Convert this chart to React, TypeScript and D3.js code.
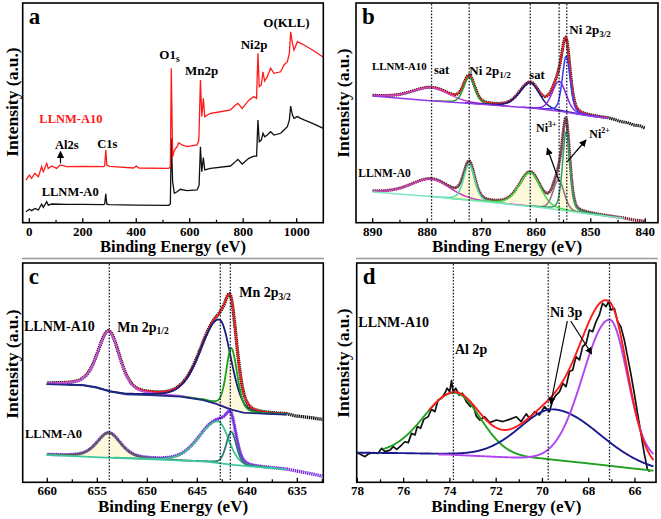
import React from "react";
import * as d3 from "d3";

// ================= DATA =================
// Panel a: XPS survey spectra [binding energy (eV), intensity (a.u.)]
const surveyA10: [number, number][] = [
  [-12.5, 19.4], [0, 21.7], [8.75, 20.2], [21, 22.5], [34, 20.9], [46, 25.5], [52.5, 23.2], [65, 27.0], [71, 24.7],
  [84, 25.8], [102, 24.7], [115, 26.3], [140, 25.5], [200, 25.6], [277.5, 25.5], [282, 26.0], [286, 33.1], [290, 26.2],
  [300, 25.6], [390, 24.9], [400, 25.8], [410, 24.9], [521, 24.7], [527.5, 25.5], [531, 70.3], [536, 30.0],
  [542.5, 33.1], [552.5, 34.6], [559, 36.4], [571, 35.4], [590, 34.6], [627.5, 35.4], [634, 37.6], [640, 64.9],
  [645, 48.3], [651, 56.6], [656, 48.3], [677.5, 49.8], [715, 50.5], [752.5, 51.3], [771, 53.6], [780, 54.3],
  [796, 52.0], [821, 55.8], [840, 57.4], [850, 56.6], [855, 77.1], [860, 61.9], [867.5, 62.7], [874, 68.7],
  [880, 64.5], [890, 66.5], [902.5, 70.3], [915, 68.0], [940, 68.7], [952.5, 71.8], [965, 73.3], [972.5, 77.1],
  [977.5, 86.9], [984, 81.6], [990, 78.6], [1002.5, 82.4], [1015, 81.6], [1027.5, 80.9], [1059, 78.6], [1100, 75.3],
];
const surveyA0: [number, number][] = [
  [-12.5, 5.0], [0, 6.1], [8.75, 5.5], [21, 6.5], [34, 5.8], [46, 8.5], [52.5, 7.0], [65, 9.6], [71, 8.0],
  [84, 8.5], [140, 8.3], [200, 8.3], [277.5, 8.2], [282, 8.6], [286, 13.1], [290, 8.4], [300, 8.2], [400, 8.0],
  [521, 7.9], [527.5, 8.5], [531, 38.4], [536, 18.7], [542.5, 13.4], [552.5, 14.1], [565, 15.2], [590, 14.6],
  [627.5, 14.9], [635, 17.1], [640, 34.6], [645, 23.2], [651, 29.7], [656, 24.0], [677.5, 24.7], [752.5, 25.8],
  [771, 27.8], [780, 28.8], [796, 26.7], [821, 29.3], [840, 30.3], [850, 30.3], [855, 46.7], [860, 36.9],
  [867.5, 37.6], [874, 40.7], [880, 39.1], [890, 39.9], [902.5, 41.4], [915, 39.9], [940, 40.7], [952.5, 42.2],
  [965, 43.7], [972.5, 46.7], [977.5, 53.1], [984, 49.0], [990, 47.5], [1002.5, 48.3], [1015, 47.5],
  [1027.5, 46.8], [1059, 45.2], [1100, 42.9],
];
const surveyTicks = [0, 200, 400, 600, 800, 1000];

// Fitted peak parameters: centre (eV), height, half-widths (high-BE side / low-BE side), Lorentzian fraction
type Peak = { c: number; h: number; wl: number; wr: number; eta: number };

// Panel b: Ni 2p
const niRange: [number, number] = [890, 846.8];
const niA10BgE = [890, 880, 870, 860, 855, 850, 846.8];
const niA10BgV = [57.7, 55.6, 53.9, 52.0, 50.5, 48.5, 47.5];
const niA10Peaks: Peak[] = [
  { c: 879.2, h: 6.0, wl: 4.2, wr: 3.8, eta: 0.3 },
  { c: 872.3, h: 11.9, wl: 1.2, wr: 1.2, eta: 0.3 },
  { c: 861.1, h: 11.4, wl: 2.3, wr: 2.0, eta: 0.3 },
  { c: 855.8, h: 13.5, wl: 1.5, wr: 1.5, eta: 0.2 },
  { c: 854.5, h: 25.5, wl: 0.85, wr: 0.85, eta: 0.3 },
];
const niA10Tail: [number, number][] = [[846.8, 47.5], [845.5, 46.9], [844.5, 46.0], [843.3, 45.6], [842.2, 44.5], [841, 44.1], [840, 43.0]];
const niA0Range: [number, number] = [890, 844];
const niA0BgE = [890, 880, 870, 860, 855, 850, 844];
const niA0BgV = [14.0, 12.0, 9.6, 7.2, 5.6, 3.9, 2.0];
const niA0Peaks: Peak[] = [
  { c: 879.2, h: 8.0, wl: 4.5, wr: 4.0, eta: 0.3 },
  { c: 872.3, h: 16.4, wl: 1.2, wr: 1.2, eta: 0.3 },
  { c: 861.1, h: 15.3, wl: 2.4, wr: 2.2, eta: 0.3 },
  { c: 855.9, h: 13.5, wl: 1.2, wr: 1.2, eta: 0.2 },
  { c: 854.5, h: 36.0, wl: 0.8, wr: 0.8, eta: 0.3 },
];
const niA0Tail: [number, number][] = [[844, 2.0], [843, 1.7], [842, 1.2], [841, 1.0], [840, 0.6]];
const niRefLines = [879.2, 872.3, 861.1, 855.8, 854.4];
const niTicks = [890, 880, 870, 860, 850, 840];

// Panel c: Mn 2p
const mnRange: [number, number] = [660, 636.1];
const mnA10BgE = [660.1, 656.4, 655.1, 653.7, 652.1, 649.7, 646.7, 644.4, 643.1, 641.7, 640.4, 638.1, 636.1];
const mnA10BgV = [44.8, 44.2, 43.2, 41.3, 40.1, 39.8, 39.1, 37.5, 35.7, 33.3, 31.8, 31.2, 30.9];
const mnA10Peaks: Peak[] = [
  { c: 653.85, h: 27.3, wl: 1.3, wr: 1.3, eta: 0.4 },
  { c: 642.75, h: 39.0, wl: 2.2, wr: 1.3, eta: 0.15 },
  { c: 641.6, h: 28.0, wl: 0.6, wr: 0.7, eta: 0.3 },
];
const mnA10Tail: [number, number][] = [[636.1, 30.8], [635.2, 30.3], [634.4, 29.9], [633.4, 29.3], [632.5, 28.7]];
const mnA0BgE = [660.1, 654.7, 648.1, 644.1, 641.4, 636.1];
const mnA0BgV = [12.5, 11.4, 10.2, 9.4, 7.9, 5.9];
const mnA0Peaks: Peak[] = [
  { c: 653.85, h: 11.3, wl: 1.4, wr: 1.4, eta: 0.4 },
  { c: 642.9, h: 19.0, wl: 2.2, wr: 1.2, eta: 0.15 },
  { c: 641.6, h: 15.0, wl: 0.6, wr: 0.6, eta: 0.3 },
];
const mnA0Tail: [number, number][] = [[636.1, 5.9], [635.2, 5.3], [634.4, 4.6], [633.4, 3.7], [632.5, 2.8]];
const mnRefLines = [653.8, 642.7, 641.7];
const mnTicks = [660, 655, 650, 645, 640, 635];

// Panel d: Al 2p / Ni 3p
const alRange: [number, number] = [78, 65.2];
const alBgE = [78, 76, 74, 72, 70, 68, 66.5, 65.2];
const alBgV = [13.5, 13.3, 12.9, 12.2, 10.8, 8.6, 6.8, 5.3];
const alVioBgE = [78, 74, 70, 68, 65.2];
const alVioBgV = [13.4, 12.6, 10.6, 10.2, 10.0];
const alPeakAl: Peak = { c: 73.8, h: 28, wl: 1.55, wr: 1.3, eta: 0 };
const alPeakNi1: Peak = { c: 69.45, h: 23, wl: 1.75, wr: 2.25, eta: 0 };
const alPeakNi2: Peak = { c: 67.1, h: 64, wl: 1.35, wr: 0.9, eta: 0 };
const alRaw: [number, number][] = [
  [78.0, 13.5], [77.81, 12.5], [77.67, 11.7], [77.53, 12.9], [77.31, 13.5], [77.1, 13.2], [76.95, 15.5], [76.81, 14.0],
  [76.59, 14.7], [76.45, 16.3], [76.3, 15.0], [76.09, 17.0], [75.95, 18.5], [75.8, 18.1], [75.66, 22.3], [75.51, 21.6],
  [75.41, 25.4], [75.27, 24.6], [75.13, 28.7], [74.94, 29.9], [74.8, 33.3], [74.65, 32.2], [74.51, 37.5], [74.36, 38.3],
  [74.22, 40.6], [74.12, 42.9], [74.01, 41.3], [73.93, 46.4], [73.86, 40.9], [73.75, 42.9], [73.6, 39.8], [73.46, 40.6],
  [73.29, 36.8], [73.11, 34.5], [73.0, 35.3], [72.86, 30.2], [72.71, 28.4], [72.5, 29.9], [72.28, 27.2], [71.99, 28.4],
  [71.71, 27.7], [71.42, 28.7], [71.13, 29.9], [70.92, 27.7], [70.7, 31.2], [70.56, 29.2], [70.34, 32.2], [70.13, 30.7],
  [69.91, 34.5], [69.7, 32.2], [69.55, 37.5], [69.41, 39.8], [69.26, 41.3], [69.12, 45.1], [68.98, 43.6], [68.83, 50.5],
  [68.69, 51.2], [68.55, 57.3], [68.4, 55.8], [68.26, 61.9], [68.11, 63.4], [67.97, 69.5], [67.83, 68.7], [67.68, 73.3],
  [67.54, 76.3], [67.4, 81.6], [67.25, 80.1], [67.14, 82.4], [67.04, 78.6], [66.89, 79.3], [66.75, 73.3], [66.61, 71.0],
  [66.46, 64.9], [66.32, 57.3], [66.18, 49.7], [66.03, 40.6], [65.89, 31.5], [65.74, 22.3], [65.6, 13.2], [65.46, 5.9],
  [65.36, 4.9],
];
const alRefLines = [73.85, 69.75, 67.1];
const alTicks = [78, 76, 74, 72, 70, 68, 66];

// ================= LAYOUT / STYLE =================
const FONT = "'Liberation Serif', 'Times New Roman', serif";
type Geom = { left: number; right: number; top: number; bottom: number; domain: [number, number] };
const gA: Geom = { left: 22.7, right: 323.3, top: 3, bottom: 222.7, domain: [-24.7, 1099.5] };
const gB: Geom = { left: 356, right: 658, top: 3, bottom: 222.7, domain: [893.06, 837.67] };
const gC: Geom = { left: 22.7, right: 323.3, top: 263, bottom: 482.3, domain: [662.46, 632.4] };
const gD: Geom = { left: 356.7, right: 656, top: 263, bottom: 482.3, domain: [78.03, 65.09] };

function scales(g: Geom) {
  const x = d3.scaleLinear().domain(g.domain).range([g.left, g.right]);
  const y = d3.scaleLinear().domain([0, 100]).range([g.bottom, g.top]);
  return { x, y };
}

function pv(e: number, p: Peak) {
  const w = e > p.c ? p.wl : p.wr;
  const r = (e - p.c) / w;
  return p.h * (p.eta / (1 + r * r) + (1 - p.eta) * Math.exp(-Math.LN2 * r * r));
}

function sampleRange(r: [number, number], step: number) {
  return d3.range(r[0], r[1] - step / 2, -step).concat([r[1]]);
}

function Frame({ g, ticks, minor, titleSize, yTitleX, yTitleY, tickBase, titleBase, letter }: any) {
  const { x } = scales(g);
  const cx = (g.left + g.right) / 2;
  return (
    <g>
      <rect x={g.left} y={g.top} width={g.right - g.left} height={g.bottom - g.top} fill="none" stroke="#000" strokeWidth={1.6} />
      {ticks.map((t: number) => (
        <line key={"M" + t} x1={x(t)} x2={x(t)} y1={g.bottom} y2={g.bottom - 4.5} stroke="#000" strokeWidth={1.3} />
      ))}
      {minor.map((t: number) => (
        <line key={"m" + t} x1={x(t)} x2={x(t)} y1={g.bottom} y2={g.bottom - 3} stroke="#000" strokeWidth={1.2} />
      ))}
      {ticks.map((t: number) => (
        <text key={"l" + t} x={x(t)} y={tickBase} textAnchor="middle" fontSize={13} fontWeight="bold" fontFamily={FONT}>
          {t}
        </text>
      ))}
      <text x={cx} y={titleBase} textAnchor="middle" fontSize={titleSize} fontWeight="bold" fontFamily={FONT}>
        Binding Energy (eV)
      </text>
      <text transform={`translate(${yTitleX},${yTitleY}) rotate(-90)`} textAnchor="middle" fontSize={17.5} fontWeight="bold" fontFamily={FONT}>
        Intensity (a.u.)
      </text>
      <text x={g.left + 6} y={g.top + 21} fontSize={23} fontWeight="bold" fontFamily={FONT}>
        {letter}
      </text>
    </g>
  );
}

function RefLines({ g, lines }: any) {
  const { x } = scales(g);
  return (
    <g>
      {lines.map((e: number) => (
        <line key={e} x1={x(e)} x2={x(e)} y1={g.top + 1} y2={g.bottom - 1} stroke="#1c1c3c" strokeWidth={1.3} strokeDasharray="1.6 1.6" />
      ))}
    </g>
  );
}

type FitSpec = {
  range: [number, number];
  bgE: number[];
  bgV: number[];
  peaks: Peak[];
  colors: string[];
  fills: boolean[];
  bgColor: string;
  envColor: string;
  dataColor: string;
  tail: [number, number][];
  width: number;
  step: number;
};

function FitSpectrum({ g, s }: { g: Geom; s: FitSpec }) {
  const { x, y } = scales(g);
  const bg = d3.scaleLinear().domain(s.bgE).range(s.bgV).clamp(true);
  const es = sampleRange(s.range, s.step);
  const line = d3.line<[number, number]>().x((d) => x(d[0])).y((d) => y(d[1]));
  const area = d3
    .area<[number, number, number]>()
    .x((d) => x(d[0]))
    .y0((d) => y(d[1]))
    .y1((d) => y(d[2]));
  const env: [number, number][] = es.map((e) => [e, bg(e) + d3.sum(s.peaks, (p) => pv(e, p))]);
  const comps = s.peaks.map((p) => es.filter((e) => pv(e, p) > 0.12).map((e) => [e, bg(e), bg(e) + pv(e, p)] as [number, number, number]));
  return (
    <g>
      {comps.map((c, i) => (s.fills[i] ? <path key={"f" + i} d={area(c) || ""} fill="#fbf6c4" opacity={0.6} /> : null))}
      <path d={line(env.concat(s.tail.slice(1))) || ""} fill="none" stroke={s.dataColor} strokeWidth={s.width + 1.6} strokeDasharray="1.4 0.7" strokeLinejoin="round" />
      <path d={line(env) || ""} fill="none" stroke={s.envColor} strokeWidth={s.width} />
      {comps.map((c, i) => (
        <path key={"c" + i} d={line(c.map((d) => [d[0], d[2]])) || ""} fill="none" stroke={s.colors[i]} strokeWidth={s.width} />
      ))}
      <path d={line(s.bgE.map((e, i) => [e, s.bgV[i]] as [number, number])) || ""} fill="none" stroke={s.bgColor} strokeWidth={s.width} />
    </g>
  );
}

function Arrow({ x1, y1, x2, y2 }: any) {
  return <line x1={x1} y1={y1} x2={x2} y2={y2} stroke="#000" strokeWidth={1.2} markerEnd="url(#ah)" />;
}

const T = ({ x, y, size, fill, children }: any) => (
  <text x={x} y={y} fontSize={size} fontWeight="bold" fontFamily={FONT} fill={fill || "#000"}>
    {children}
  </text>
);

export default function App() {
  // panel a
  const sa = scales(gA);
  const surveyLine = d3.line<[number, number]>().x((d) => sa.x(d[0])).y((d) => sa.y(d[1]));

  // panel d
  const sd = scales(gD);
  const bgD = d3.scaleLinear().domain(alBgE).range(alBgV).clamp(true);
  const bgV = d3.scaleLinear().domain(alVioBgE).range(alVioBgV).clamp(true);
  const lineD = d3.line<[number, number]>().x((d) => sd.x(d[0])).y((d) => sd.y(d[1]));
  const esD = sampleRange(alRange, 0.02);
  const greenD: [number, number][] = esD.filter((e) => e <= 76.9).map((e) => [e, bgD(e) + pv(e, alPeakAl)]);
  const navyD: [number, number][] = esD.map((e) => [e, bgD(e) + pv(e, alPeakNi1)]);
  const violetD: [number, number][] = esD.filter((e) => e <= 74.5).map((e) => [e, bgV(e) + pv(e, alPeakNi2)]);
  const envD: [number, number][] = esD
    .filter((e) => e <= 74.9)
    .map((e) => [e, bgD(e) + pv(e, alPeakAl) + pv(e, alPeakNi1) + pv(e, alPeakNi2)]);

  const niA10: FitSpec = {
    range: niRange, bgE: niA10BgE, bgV: niA10BgV, peaks: niA10Peaks,
    colors: ["#d43ccc", "#1f9e2a", "#16168a", "#8a2be2", "#3b3bff"],
    fills: [false, false, false, false, false],
    bgColor: "#9438e8", envColor: "#ff1a1a", dataColor: "#111", tail: niA10Tail, width: 1.5, step: 0.1,
  };
  const niA0: FitSpec = {
    range: niA0Range, bgE: niA0BgE, bgV: niA0BgV, peaks: niA0Peaks,
    colors: ["#cc3bbf", "#44e0a8", "#3ddc3d", "#8a7070", "#2f9e6c"],
    fills: [false, true, true, false, true],
    bgColor: "#7ee8c0", envColor: "#6e4a4a", dataColor: "#7a2036", tail: niA0Tail, width: 1.5, step: 0.1,
  };
  const mnA10: FitSpec = {
    range: mnRange, bgE: mnA10BgE, bgV: mnA10BgV, peaks: mnA10Peaks,
    colors: ["#c050f0", "#1a1a80", "#1aa01a"],
    fills: [false, false, true],
    bgColor: "#1f2a80", envColor: "#ff1a1a", dataColor: "#111", tail: mnA10Tail, width: 1.8, step: 0.05,
  };
  const mnA0: FitSpec = {
    range: mnRange, bgE: mnA0BgE, bgV: mnA0BgV, peaks: mnA0Peaks,
    colors: ["#5e5e4c", "#40c090", "#2a7a70"],
    fills: [true, false, false],
    bgColor: "#3cc8a0", envColor: "#7a2ee0", dataColor: "#7a2ee0", tail: mnA0Tail, width: 1.8, step: 0.05,
  };

  return (
    <svg width={661} height={519} style={{ position: "absolute", left: 0, top: 0, display: "block" }}>
      <defs>
        <marker id="ah" viewBox="0 0 10 10" refX="9" refY="5" markerWidth="6" markerHeight="6" orient="auto">
          <path d="M0,0 L10,5 L0,10 z" fill="#000" />
        </marker>
      </defs>
      <rect x={0} y={0} width={661} height={519} fill="#fff" />

      {/* separators */}
      <line x1={22} x2={324} y1={258.5} y2={258.5} stroke="#9a9a9a" strokeWidth={1.5} />
      <line x1={356} x2={658} y1={258.5} y2={258.5} stroke="#9a9a9a" strokeWidth={1.5} />

      {/* ===== Panel a ===== */}
      <path d={surveyLine(surveyA0) || ""} fill="none" stroke="#111" strokeWidth={1.3} />
      <path d={surveyLine(surveyA10) || ""} fill="none" stroke="#ff1a1a" strokeWidth={1.3} />
      <Frame g={gA} ticks={surveyTicks} minor={d3.range(100, 1100, 200)} titleSize={16.5} yTitleX={18} yTitleY={102}
        tickBase={235.5} titleBase={252} letter="a" />
      <T x={263.3} y={27.3} size={13}>O(KLL)</T>
      <T x={240.7} y={49.3} size={13}>Ni2p</T>
      <T x={159.3} y={59.3} size={13}>O1<tspan fontSize={9.5} dy={2.5}>s</tspan></T>
      <T x={185} y={75} size={13}>Mn2p</T>
      <T x={39.3} y={122.7} size={12.5} fill="#ff1a1a">LLNM-A10</T>
      <T x={55} y={149} size={12.5}>Al2s</T>
      <Arrow x1={60.5} y1={163.3} x2={60.5} y2={151.5} />
      <T x={97.3} y={148.3} size={12.5}>C1s</T>
      <T x={41.7} y={196} size={12.5}>LLNM-A0</T>

      {/* ===== Panel b ===== */}
      <FitSpectrum g={gB} s={niA0} />
      <FitSpectrum g={gB} s={niA10} />
      <RefLines g={gB} lines={niRefLines} />
      <Frame g={gB} ticks={niTicks} minor={d3.range(885, 840, -10)} titleSize={17} yTitleX={349} yTitleY={103}
        tickBase={235.5} titleBase={252} letter="b" />
      <T x={372} y={70} size={10.8}>LLNM-A10</T>
      <T x={434} y={74} size={12.5}>sat</T>
      <T x={469.3} y={75} size={13}>Ni 2p<tspan fontSize={9} dy={2.5}>1/2</tspan></T>
      <T x={529.3} y={79.3} size={12.5}>sat</T>
      <T x={569.3} y={34} size={13}>Ni 2p<tspan fontSize={9} dy={2.5}>3/2</tspan></T>
      <T x={358.3} y={177.3} size={11.5}>LLNM-A0</T>
      <T x={536} y={131.7} size={12}>Ni<tspan fontSize={8} dy={-5}>3+</tspan></T>
      <T x={589.3} y={138.3} size={12}>Ni<tspan fontSize={8} dy={-5}>2+</tspan></T>
      <Arrow x1={559.3} y1={181.7} x2={547.3} y2={148.3} />
      <Arrow x1={567.3} y1={161.7} x2={586} y2={140} />

      {/* ===== Panel c ===== */}
      <FitSpectrum g={gC} s={mnA0} />
      <FitSpectrum g={gC} s={mnA10} />
      <RefLines g={gC} lines={mnRefLines} />
      <Frame g={gC} ticks={mnTicks} minor={d3.range(657.5, 632, -5)} titleSize={17} yTitleX={18} yTitleY={364}
        tickBase={495} titleBase={512} letter="c" />
      <T x={24} y={330.7} size={14}>LLNM-A10</T>
      <T x={117.3} y={331.7} size={14}>Mn 2p<tspan fontSize={9.5} dy={2.5}>1/2</tspan></T>
      <T x={239.3} y={297.3} size={14}>Mn 2p<tspan fontSize={9.5} dy={2.5}>3/2</tspan></T>
      <T x={25} y={438.3} size={12.5}>LLNM-A0</T>

      {/* ===== Panel d ===== */}
      <path d={lineD(alRaw) || ""} fill="none" stroke="#111" strokeWidth={1.7} strokeLinejoin="round" />
      <path d={lineD(greenD) || ""} fill="none" stroke="#22a022" strokeWidth={1.9} />
      <path d={lineD(navyD) || ""} fill="none" stroke="#1a1a90" strokeWidth={1.9} />
      <path d={lineD(violetD) || ""} fill="none" stroke="#b044f0" strokeWidth={1.9} />
      <path d={lineD(envD) || ""} fill="none" stroke="#ff1a1a" strokeWidth={1.9} />
      <RefLines g={gD} lines={alRefLines} />
      <Frame g={gD} ticks={alTicks} minor={d3.range(77, 65.5, -2)} titleSize={17} yTitleX={349} yTitleY={363}
        tickBase={495} titleBase={512} letter="d" />
      <T x={358.3} y={326.7} size={14}>LLNM-A10</T>
      <T x={455} y={354} size={14}>Al 2p</T>
      <T x={550} y={316.7} size={14}>Ni 3p</T>
      <Arrow x1={567.3} y1={321} x2={550.7} y2={404} />
      <Arrow x1={570.7} y1={321} x2={591.7} y2={354} />
    </svg>
  );
}
